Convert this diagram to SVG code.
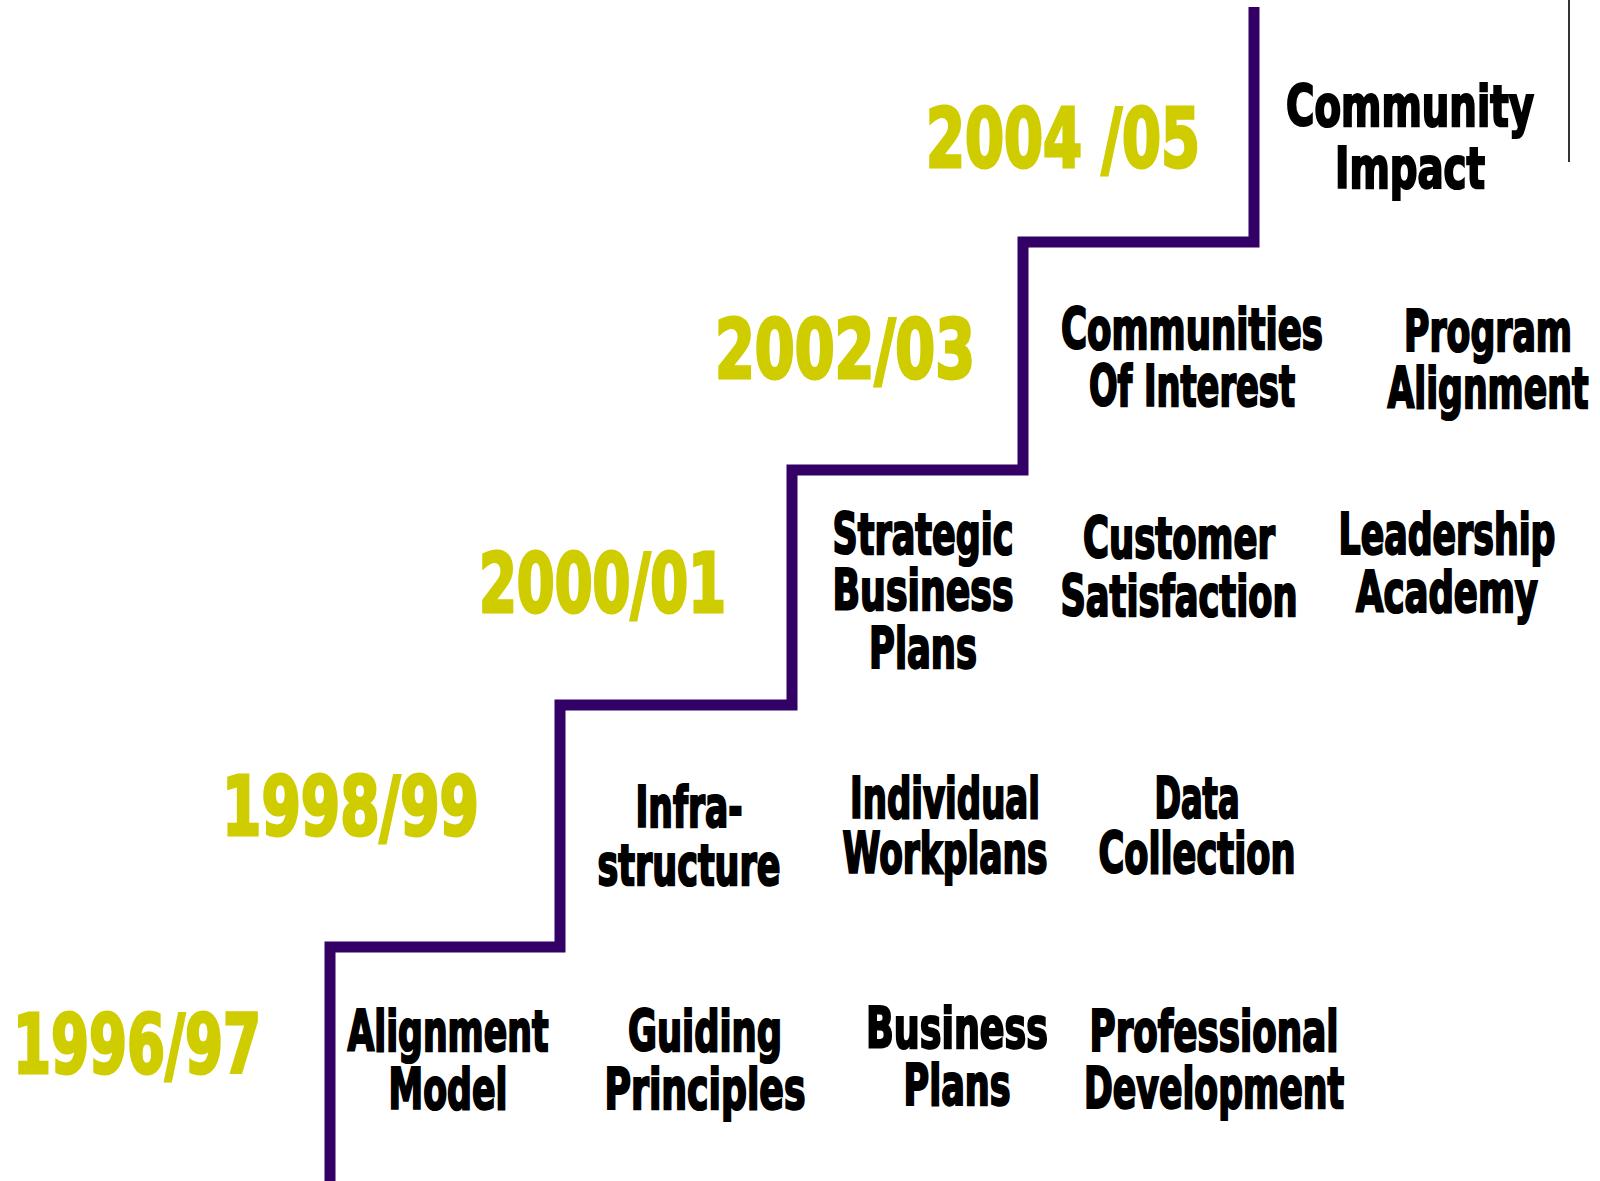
<svg xmlns="http://www.w3.org/2000/svg" width="1600" height="1181" viewBox="0 0 1600 1181">
  <style>
    .year { font-family: 'Liberation Sans Narrow', 'DejaVu Sans Condensed', 'Liberation Sans', sans-serif; font-weight: bold; font-size: 81px; fill: #cfcc00; stroke: #cfcc00; stroke-width: 3; }
    .lbl { font-family: 'Liberation Sans Narrow', 'DejaVu Sans Condensed', 'Liberation Sans', sans-serif; font-weight: bold; font-size: 57px; fill: #000; stroke: #000; stroke-width: 2.2; text-anchor: middle; }
    .stair { fill: none; stroke: #330066; stroke-width: 11; stroke-linejoin: miter; stroke-linecap: butt; }
  </style>
  <rect width="1600" height="1181" fill="#fff"/>

  <!-- staircase connector -->
  <g id="connectors">
    <path class="stair" d="M330,1181 V947 H560 V705 H792 V470 H1023 V242 H1254 V7"/>
    <line x1="1569" y1="0" x2="1569" y2="162" stroke="#000" stroke-width="1.6"/>
  </g>

  <!-- year labels (drawn narrowed: x coordinates are in the 0.75 scaled space) -->
  <g id="year-1996" transform="scale(0.75 1)">
    <text class="year" x="17.33" y="1073" textLength="330.67" lengthAdjust="spacingAndGlyphs">1996/97</text>
  </g>
  <g id="year-1998" transform="scale(0.75 1)">
    <text class="year" x="296" y="835" textLength="342.67" lengthAdjust="spacingAndGlyphs">1998/99</text>
  </g>
  <g id="year-2000" transform="scale(0.75 1)">
    <text class="year" x="638.67" y="612" textLength="329.33" lengthAdjust="spacingAndGlyphs">2000/01</text>
  </g>
  <g id="year-2002" transform="scale(0.75 1)">
    <text class="year" x="953.33" y="378" textLength="346.67" lengthAdjust="spacingAndGlyphs">2002/03</text>
  </g>
  <g id="year-2004" transform="scale(0.75 1)">
    <text class="year" x="1234.67" y="167" textLength="365.33" lengthAdjust="spacingAndGlyphs">2004 /05</text>
  </g>

  <!-- 1996/97 step -->
  <g id="alignment-model" transform="scale(0.75 1)">
    <text class="lbl" x="597.33" y="1051" textLength="268" lengthAdjust="spacingAndGlyphs">Alignment</text>
    <text class="lbl" x="597.33" y="1109" textLength="158.67" lengthAdjust="spacingAndGlyphs">Model</text>
  </g>
  <g id="guiding-principles" transform="scale(0.75 1)">
    <text class="lbl" x="940" y="1051" textLength="205.33" lengthAdjust="spacingAndGlyphs">Guiding</text>
    <text class="lbl" x="940" y="1109" textLength="268" lengthAdjust="spacingAndGlyphs">Principles</text>
  </g>
  <g id="business-plans" transform="scale(0.75 1)">
    <text class="lbl" x="1276" y="1048" textLength="242.67" lengthAdjust="spacingAndGlyphs">Business</text>
    <text class="lbl" x="1276" y="1105" textLength="142.67" lengthAdjust="spacingAndGlyphs">Plans</text>
  </g>
  <g id="professional-development" transform="scale(0.75 1)">
    <text class="lbl" x="1618.67" y="1051" textLength="332" lengthAdjust="spacingAndGlyphs">Professional</text>
    <text class="lbl" x="1618.67" y="1108" textLength="346.67" lengthAdjust="spacingAndGlyphs">Development</text>
  </g>

  <!-- 1998/99 step -->
  <g id="infrastructure" transform="scale(0.75 1)">
    <text class="lbl" x="918.67" y="827" textLength="142.67" lengthAdjust="spacingAndGlyphs">Infra-</text>
    <text class="lbl" x="918.67" y="885" textLength="244" lengthAdjust="spacingAndGlyphs">structure</text>
  </g>
  <g id="individual-workplans" transform="scale(0.75 1)">
    <text class="lbl" x="1260" y="818" textLength="253.33" lengthAdjust="spacingAndGlyphs">Individual</text>
    <text class="lbl" x="1260" y="873" textLength="273.33" lengthAdjust="spacingAndGlyphs">Workplans</text>
  </g>
  <g id="data-collection" transform="scale(0.75 1)">
    <text class="lbl" x="1596" y="818" textLength="113.33" lengthAdjust="spacingAndGlyphs">Data</text>
    <text class="lbl" x="1596" y="873" textLength="262.67" lengthAdjust="spacingAndGlyphs">Collection</text>
  </g>

  <!-- 2000/01 step -->
  <g id="strategic-business-plans" transform="scale(0.75 1)">
    <text class="lbl" x="1230.67" y="554" textLength="241.33" lengthAdjust="spacingAndGlyphs">Strategic</text>
    <text class="lbl" x="1230.67" y="610" textLength="241.33" lengthAdjust="spacingAndGlyphs">Business</text>
    <text class="lbl" x="1230.67" y="668" textLength="144" lengthAdjust="spacingAndGlyphs">Plans</text>
  </g>
  <g id="customer-satisfaction" transform="scale(0.75 1)">
    <text class="lbl" x="1572" y="558" textLength="256" lengthAdjust="spacingAndGlyphs">Customer</text>
    <text class="lbl" x="1572" y="616" textLength="316" lengthAdjust="spacingAndGlyphs">Satisfaction</text>
  </g>
  <g id="leadership-academy" transform="scale(0.75 1)">
    <text class="lbl" x="1929.33" y="554" textLength="289.33" lengthAdjust="spacingAndGlyphs">Leadership</text>
    <text class="lbl" x="1929.33" y="612" textLength="242.67" lengthAdjust="spacingAndGlyphs">Academy</text>
  </g>

  <!-- 2002/03 step -->
  <g id="communities-of-interest" transform="scale(0.75 1)">
    <text class="lbl" x="1589.33" y="349" textLength="349.33" lengthAdjust="spacingAndGlyphs">Communities</text>
    <text class="lbl" x="1589.33" y="406" textLength="274.67" lengthAdjust="spacingAndGlyphs">Of Interest</text>
  </g>
  <g id="program-alignment" transform="scale(0.7 1)">
    <text class="lbl" x="2125.71" y="351" textLength="240" lengthAdjust="spacingAndGlyphs">Program</text>
    <text class="lbl" x="2125.71" y="408" textLength="287.14" lengthAdjust="spacingAndGlyphs">Alignment</text>
  </g>

  <!-- 2004/05 step -->
  <g id="community-impact" transform="scale(0.75 1)">
    <text class="lbl" x="1880" y="126" textLength="330.67" lengthAdjust="spacingAndGlyphs">Community</text>
    <text class="lbl" x="1880" y="188" textLength="200" lengthAdjust="spacingAndGlyphs">Impact</text>
  </g>
</svg>
